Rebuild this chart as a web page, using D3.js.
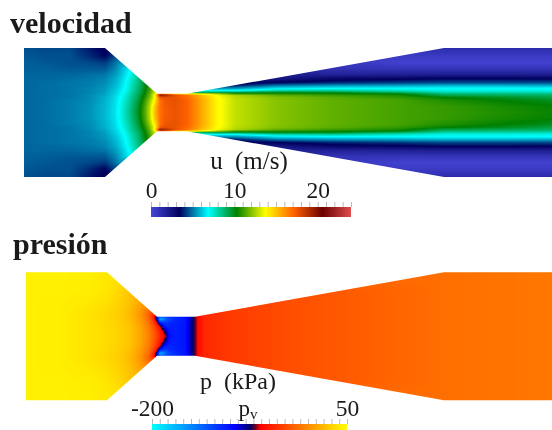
<!DOCTYPE html>
<html>
<head>
<meta charset="utf-8">
<script src="https://cdn.jsdelivr.net/npm/d3@7"></script>
<style>
  html, body { margin: 0; background: #fff; }
  svg { display: block; filter: blur(0.45px); }
  text { font-family: "Liberation Serif", serif; fill: #1a1a1a; }
</style>
</head>
<body>
<script>
// nozzle outlines, mm along the axis and half height in mm
const uWallX = [0, 16.2, 26.6, 32.6, 84, 105.6];
const uWallH = [12.9, 12.9, 3.75, 3.75, 12.9, 12.9];
const pWallX = [0, 16.2, 26.2, 33.8, 83.6, 105.2];
const pWallH = [12.8, 12.8, 3.9, 3.9, 12.8, 12.8];

// velocity u (m/s), one row per radius, one column per station
const uStations = [0, 4.2, 9.2, 13.2, 16.2, 18.2, 19.2, 20.2, 21.2, 22.2, 23.2, 24.2, 25.2, 26.2, 27.2, 28.2, 30.2, 32.6, 35.2, 38.6, 42.2, 50.4, 61.2, 75.2, 84, 95.2, 105.6];
const uRadii = [0, 1.2, 2.4, 3, 3.4, 3.75, 4, 4.4, 4.8, 5.4, 6, 6.8, 7.6, 8.8, 10, 11.2, 12.9];
const uValues = [
  [4.8, 4.9, 5.1, 5.4, 5.9, 6.5, 7.1, 7.8, 8.5, 9.3, 10.3, 11.4, 12.9, 15.2, 16.8, 17.3, 17.6, 17.2, 15.8, 13.9, 12.9, 12.1, 11.6, 11.2, 11, 10.7, 10.4],
  [4.8, 4.9, 5.1, 5.4, 5.9, 6.45, 7, 7.7, 8.4, 9.2, 10.2, 11.3, 12.8, 15, 16.8, 17.4, 17.6, 17.2, 15.8, 13.9, 12.9, 12.1, 11.6, 11.2, 11, 10.6, 10.35],
  [4.8, 4.9, 5.1, 5.3, 5.8, 6.4, 6.9, 7.5, 8.2, 9, 9.9, 11, 12.4, 14.2, 16.8, 17.5, 17.7, 17.2, 15.8, 13.9, 12.9, 12.1, 11.6, 11.2, 10.7, 10.3, 9.9],
  [4.8, 4.9, 5, 5.3, 5.8, 6.35, 6.8, 7.4, 8.1, 8.8, 9.7, 10.7, 12, 13.8, 17.5, 17.8, 17.6, 17, 15.6, 13.8, 12.8, 12, 11.5, 10.9, 10.3, 9.9, 9.4],
  [4.8, 4.9, 5, 5.3, 5.7, 6.3, 6.7, 7.3, 8, 8.7, 9.6, 10.5, 11.8, 14, 19.5, 19, 17.8, 16.8, 15.3, 13.6, 12.6, 11.6, 11.1, 10.6, 9.4, 9.2, 9],
  [4.8, 4.9, 5, 5.2, 5.6, 6.2, 6.6, 7.2, 7.9, 8.6, 9.4, 10.4, 11.6, 13.5, 18, 18, 15.5, 14.5, 13.6, 12.6, 11, 10.7, 10.5, 10.2, 8.7, 8.6, 8.5],
  [4.8, 4.9, 5, 5.2, 5.6, 6.2, 6.6, 7.1, 7.8, 8.5, 9.3, 10.3, 11.5, 13, 13, 12, 11, 9, 9, 9.3, 9.5, 10, 9.9, 9, 8, 8, 7.9],
  [4.8, 4.9, 5, 5.2, 5.5, 6.1, 6.5, 7, 7.7, 8.4, 9.2, 10.2, 11.3, 13, 12, 10, 8, 6.5, 7, 6.8, 6.8, 8, 8.2, 7.6, 7.2, 7.2, 7.2],
  [4.8, 4.9, 5, 5.2, 5.5, 6, 6.4, 6.9, 7.6, 8.3, 9.1, 10.1, 11.2, 12, 11, 9, 7, 5.5, 5.5, 5.5, 5.5, 6.6, 6.9, 6.95, 6.95, 6.95, 6.9],
  [4.8, 4.9, 5, 5.1, 5.4, 5.9, 6.3, 6.8, 7.5, 8.2, 9, 10, 11, 11, 9, 7, 5, 4, 3.5, 3.8, 3.8, 5, 5.4, 5.6, 5.8, 5.8, 5.7],
  [4.8, 4.9, 5, 5.1, 5.3, 5.8, 6.2, 6.7, 7.4, 8.1, 8.9, 9.8, 10, 10, 8, 6, 3, 3, 3, 3, 3, 3.4, 3.9, 4.2, 4.4, 4.4, 4.4],
  [4.8, 4.8, 4.9, 5, 5.2, 5.7, 6.1, 6.6, 7.2, 8, 8.8, 9, 9, 9, 8, 6, 3, 3, 3, 3, 3, 2.3, 3, 3.2, 3.4, 3.4, 3.3],
  [4.8, 4.8, 4.8, 4.9, 5, 5.5, 5.9, 6.4, 7, 7.8, 8.5, 8.5, 8.5, 8, 7, 5, 3, 3, 3, 3, 3, 2, 1.8, 1.9, 2, 2, 2],
  [4.7, 4.7, 4.6, 4.6, 4.6, 5.2, 5.7, 6.2, 6.8, 6.8, 6.8, 6.8, 6.8, 6.8, 6, 5, 3, 3, 3, 3, 3, 2, 1, 0.9, 0.9, 0.9, 0.9],
  [4.7, 4.6, 4.5, 4.4, 4.2, 4.9, 5.4, 5.4, 5.4, 5.4, 5.4, 5.4, 5.4, 5.4, 5, 4, 3, 3, 3, 3, 3, 2, 0.9, 0.3, 0.3, 0.3, 0.3],
  [4.6, 4.5, 4.5, 4, 3.5, 4.4, 4.4, 4.4, 4.4, 4.4, 4.4, 4.4, 4.4, 4.4, 4, 3, 3, 3, 3, 3, 3, 2, 0.9, 0.6, 0.6, 0.6, 0.6],
  [4.5, 4.4, 4.4, 3.7, 3.3, 3.3, 3.3, 3.3, 3.3, 3.3, 3.3, 3.3, 3.3, 3.3, 3, 3, 3, 3, 3, 3, 3, 2, 0.9, 0.9, 1.3, 1.3, 1.3]
];

// pressure p (kPa)
const pStations = [0, 6.8, 12.8, 16.2, 18.8, 20.8, 22.8, 24.4, 25.4, 26.2, 26.8, 27.4, 28, 28.6, 29.8, 31.8, 32.8, 33.4, 34, 34.6, 35.8, 40.8, 54.8, 83.6, 105.2];
const pRadii = [0, 1, 2, 2.8, 3.4, 3.9, 4.8, 6.4, 9, 12.8];
const pValues = [
  [44, 43, 38, 35, 30, 24, 12, -3, -18, -32, -46, -57, -65, -98, -106, -102, -85, -74, -66, -55, -44, -36, -26, -13, -9],
  [44, 43, 38, 35, 30, 24, 12, -4, -20, -35, -50, -62, -85, -102, -106, -102, -85, -74, -66, -55, -44, -36, -26, -13, -9],
  [44, 43, 38, 34, 29, 23, 10, -6, -24, -42, -62, -90, -106, -108, -106, -102, -85, -74, -66, -55, -44, -36, -26, -13, -9],
  [44, 43, 38, 34, 29, 22, 8, -10, -30, -62, -110, -120, -118, -112, -108, -102, -85, -74, -66, -55, -44, -36, -26, -13, -9],
  [44, 43, 38, 33, 28, 21, 7, -12, -40, -85, -165, -155, -135, -125, -112, -104, -88, -74, -66, -55, -44, -36, -26, -13, -9],
  [44, 43, 38, 33, 28, 20, 5, -15, -45, -90, -130, -130, -120, -115, -110, -100, -85, -74, -66, -55, -44, -36, -26, -13, -9],
  [44, 43, 38, 34, 28, 20, 6, -15, -30, -45, -45, -45, -45, -45, -45, -45, -45, -45, -45, -45, -44, -36, -26, -13, -9],
  [44, 43, 40, 36, 30, 22, 10, 4, 4, 4, 4, 4, 4, 4, 4, 4, 4, 4, 4, 4, -36, -36, -26, -13, -9],
  [44, 44, 42, 39, 32, 25, 25, 25, 25, 25, 25, 25, 25, 25, 25, 25, 25, 25, 25, 25, -26, -26, -26, -13, -9],
  [44, 44, 43, 40, 40, 40, 40, 40, 40, 40, 40, 40, 40, 40, 40, 40, 40, 40, 40, 40, -13, -13, -13, -13, -9]
];

// colour bars
const uStops = [0, 3.43, 6.86, 10.29, 13.71, 17.14, 20.57, 24];
const uColors = ["#4747db", "#00005c", "#00ffff", "#008000", "#ffff00", "#ff6100", "#6b0000", "#e04d4d"];
const pStops = [-200, -94, -74, -68, -61, 50];
const pColors = ["#00ffff", "#0000ff", "#00006a", "#600020", "#ff0000", "#ffff00"];
const uTicks = d3.range(0, 25, 1);
const uLabels = [0, 10, 20];
const pTicks = d3.range(-200, 51, 10);
const pLabels = [-200, 50];

const width = 552, height = 430;
const svg = d3.select("body").append("svg").attr("width", width).attr("height", height);

// shaded field: values are read through the colour scale at every pixel
function drawField(id, stations, radii, values, color, wallX, wallH, x, y) {
  const cv = document.createElement("canvas");
  cv.width = width; cv.height = height;
  const ctx = cv.getContext("2d");
  const img = ctx.createImageData(width, height);
  const [y0, y1] = [y(wallH[0]), y(-wallH[0])];
  for (let py = Math.floor(y0) - 1; py <= Math.ceil(y1) + 1; py++) {
    const r = Math.min(Math.abs(y.invert(py + 0.5)), radii[radii.length - 1]);
    const j = Math.min(d3.bisectRight(radii, r) - 1, radii.length - 2);
    const tr = (r - radii[j]) / (radii[j + 1] - radii[j]);
    for (let px = Math.max(0, Math.floor(x(0)) - 1); px < width; px++) {
      const s = Math.max(0, Math.min(x.invert(px + 0.5), stations[stations.length - 1]));
      const i = Math.min(d3.bisectRight(stations, s) - 1, stations.length - 2);
      const ts = (s - stations[i]) / (stations[i + 1] - stations[i]);
      const v = (1 - tr) * ((1 - ts) * values[j][i] + ts * values[j][i + 1])
              + tr * ((1 - ts) * values[j + 1][i] + ts * values[j + 1][i + 1]);
      const c = d3.rgb(color(v));
      const k = (py * width + px) * 4;
      img.data[k] = c.r; img.data[k + 1] = c.g; img.data[k + 2] = c.b; img.data[k + 3] = 255;
    }
  }
  ctx.putImageData(img, 0, 0);

  const upper = wallX.map((d, i) => [d, wallH[i]]);
  const lower = wallX.map((d, i) => [d, -wallH[i]]).reverse();
  const outline = d3.line().x(d => x(d[0])).y(d => y(d[1]));
  svg.append("clipPath").attr("id", id).append("path").attr("d", outline(upper.concat(lower)) + "Z");
  svg.append("image")
    .attr("href", cv.toDataURL())
    .attr("width", width).attr("height", height)
    .attr("clip-path", `url(#${id})`);
}

function drawBar(id, scale, color, top, barH, ticks, labels, fmt, labelY) {
  const grad = svg.append("linearGradient").attr("id", id);
  const dom = scale.domain();
  grad.selectAll("stop").data(color.domain()).enter().append("stop")
    .attr("offset", d => (d - dom[0]) / (dom[1] - dom[0]))
    .attr("stop-color", d => color(d));
  svg.append("rect")
    .attr("x", scale.range()[0]).attr("y", top)
    .attr("width", scale.range()[1] - scale.range()[0]).attr("height", barH)
    .attr("fill", `url(#${id})`);

  // small grey ticks
  const minor = svg.append("g").attr("transform", `translate(0,${top})`)
    .call(d3.axisTop(scale).tickValues(ticks).tickSize(5).tickFormat(""));
  minor.select(".domain").remove();
  minor.selectAll("line").attr("stroke", "#aaa").attr("stroke-width", 0.8);

  // numbers
  const major = svg.append("g").attr("transform", `translate(0,${labelY})`)
    .call(d3.axisTop(scale).tickValues(labels).tickSize(0).tickPadding(0).tickFormat(fmt));
  major.select(".domain").remove();
  major.selectAll("text").style("font-family", '"Liberation Serif", serif').style("font-size", "23.5px").attr("fill", "#1a1a1a");
}

// velocidad
const uColor = d3.scaleLinear().domain(uStops).range(uColors).clamp(true);
const uX = d3.scaleLinear().domain([0, 105.6]).range([24, 552]);
const uY = d3.scaleLinear().domain([0, 12.9]).range([112.5, 48]);
drawField("clipU", uStations, uRadii, uValues, uColor, uWallX, uWallH, uX, uY);

// presion
const pColor = d3.scaleLinear().domain(pStops).range(pColors).clamp(true);
const pX = d3.scaleLinear().domain([0, 105.2]).range([26, 552]);
const pY = d3.scaleLinear().domain([0, 12.8]).range([336.25, 272.25]);
drawField("clipP", pStations, pRadii, pValues, pColor, pWallX, pWallH, pX, pY);

drawBar("barU", d3.scaleLinear().domain([0, 24]).range([151, 351]), uColor, 207, 10, uTicks, uLabels, d3.format("d"), 198);
drawBar("barP", d3.scaleLinear().domain([-200, 50]).range([152, 347]), pColor, 424, 8, pTicks, pLabels, d => d3.format("d")(d).replace("\u2212", "-"), 416);

// titles
svg.append("text").attr("x", 10).attr("y", 33)
  .attr("font-size", "30px").attr("font-weight", "bold").text("velocidad");
svg.append("text").attr("x", 13).attr("y", 254)
  .attr("font-size", "30px").attr("font-weight", "bold").text("presión");

// units
svg.append("text").attr("x", 249).attr("y", 169).attr("text-anchor", "middle")
  .attr("font-size", "25px").attr("word-spacing", "6px").text("u (m/s)");
svg.append("text").attr("x", 238).attr("y", 389).attr("text-anchor", "middle")
  .attr("font-size", "24px").attr("word-spacing", "6px").text("p (kPa)");

const pv = svg.append("text").attr("x", 248).attr("y", 416).attr("text-anchor", "middle")
  .attr("font-size", "23px").text("p");
pv.append("tspan").attr("dy", 3).attr("font-size", "15px").text("v");
</script>
</body>
</html>
